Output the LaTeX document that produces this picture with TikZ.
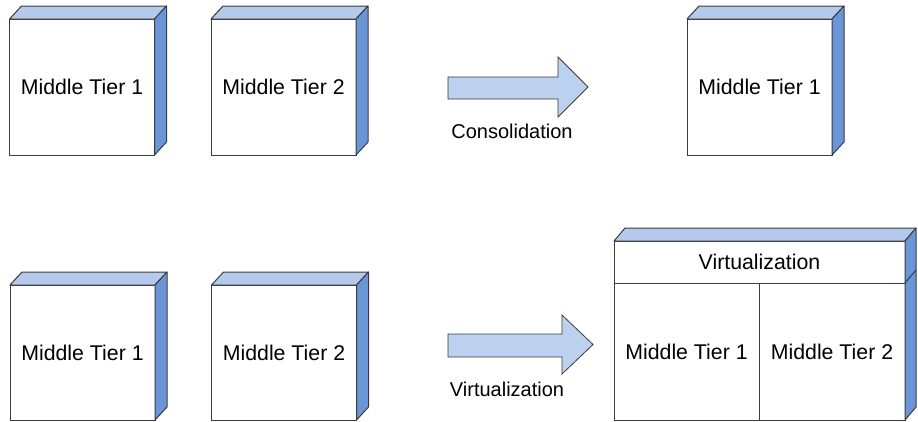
\documentclass[tikz,border=0pt]{standalone}
\usepackage{fontspec}
\setmainfont{Liberation Sans}
\definecolor{edge}{HTML}{3C3C3C}
\definecolor{topblue}{HTML}{B4C9EC}
\definecolor{sideblue}{HTML}{6A96D8}
\definecolor{arrowblue}{HTML}{BCD0EF}
\newcommand\mycube[6]{%
  \node[front, minimum width={(#4-#2)*1pt}, minimum height={(#5-#3)*1pt}] (#1) at ({(#2+#4)/2},{(#3+#5)/2}) {#6};
  \draw[topface] (#1.north west) -- ++(12,-13) -- ([shift={(12,-13)}]#1.north east) -- (#1.north east) -- cycle;
  \draw[sideface] (#1.north east) -- ++(12,-13) -- ([shift={(12,-13)}]#1.south east) -- (#1.south east) -- cycle;
}
\begin{document}
\begin{tikzpicture}[x=1pt,y=-1pt,
  front/.style={draw=edge, fill=white, line width=1pt, inner sep=0pt, outer sep=0pt, font=\fontsize{21.3}{24}\selectfont},
  topface/.style={draw=edge, fill=topblue, line width=1pt, line join=round},
  sideface/.style={draw=edge, fill=sideblue, line width=1pt, line join=round},
  bigarrow/.style={draw=edge, fill=arrowblue, line width=0.8pt},
  label/.style={font=\fontsize{20}{24}\selectfont, inner sep=0pt}]
\useasboundingbox (0,0) rectangle (918,421);
% top row
\mycube{a1}{9.5}{19}{154.5}{155}{Middle Tier 1}
\mycube{a2}{211}{19}{356}{155}{Middle Tier 2}
\mycube{c1}{687}{19}{832}{155}{Middle Tier 1}
% bottom row
\mycube{b1}{10}{285}{155}{420}{Middle Tier 1}
\mycube{b2}{211.5}{285}{356.5}{420}{Middle Tier 2}
% virtualization box
\node[front, minimum width=291pt, minimum height=42pt] (virt) at (759.5,262) {Virtualization};
\node[front, minimum width=145pt, minimum height=137pt] (v1) at (686.5,351.5) {Middle Tier 1};
\node[front, minimum width=146pt, minimum height=137pt] (v2) at (832,351.5) {Middle Tier 2};
\draw[topface] (virt.north west) -- ++(11,-13) -- ([shift={(11,-13)}]virt.north east) -- (virt.north east) -- cycle;
\draw[sideface] (virt.north east) -- ++(11,-13) -- ([shift={(11,-13)}]v2.south east) -- (v2.south east) -- cycle;
\draw[edge, line width=1pt] (virt.south east) -- ++(11,-13);
% arrows
\draw[bigarrow] (448,77) -- (558,77) -- (558,57) -- (588,87) -- (558,117) -- (558,99) -- (448,99) -- cycle;
\node[label] (lc) at (512,131) {Consolidation};
\draw[bigarrow] (448,334) -- (562,334) -- (562,315) -- (593,344.5) -- (562,374) -- (562,357) -- (448,357) -- cycle;
\node[label] (lv) at (507,389) {Virtualization};
\end{tikzpicture}
\end{document}
